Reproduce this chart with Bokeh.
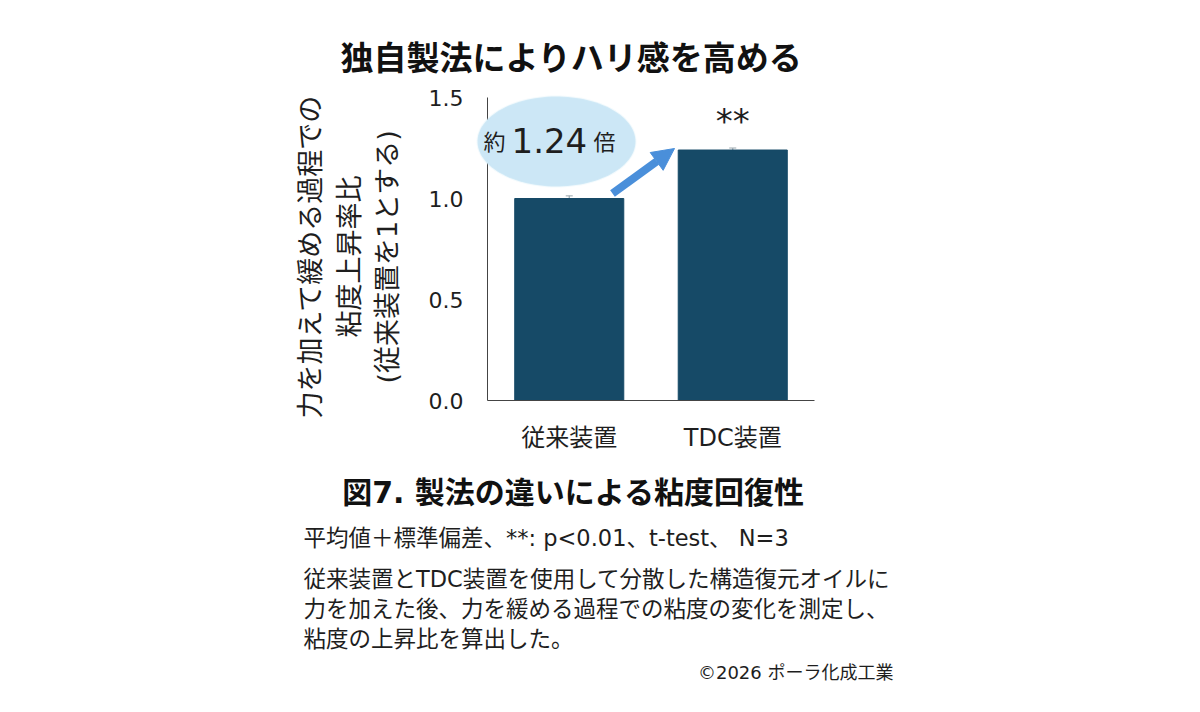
import numpy as np
from bokeh.plotting import figure
from bokeh.models import (Range1d, Label, PolyAnnotation, Arrow, NormalHead, LinearAxis,
                          Whisker, ColumnDataSource, FixedTicker, NumeralTickFormatter)
from bokeh.embed import file_html
from bokeh.resources import INLINE

# ---- data ----
categories = ["従来装置", "TDC装置"]
ratio_mean = [1.00, 1.24]
ratio_sd = [0.013, 0.010]
y_ticks = [0.0, 0.5, 1.0, 1.5]
significance = "**"
callout_prefix = "約"
callout_value = "1.24"
callout_suffix = "倍"

title_text = "独自製法によりハリ感を高める"
ylabel_lines = ["力を加えて緩める過程での", "粘度上昇率比", "(従来装置を1とする)"]
fig_caption = "図7. 製法の違いによる粘度回復性"
notes = ["平均値＋標準偏差、**: p<0.01、t-test、 N=3",
         "従来装置とTDC装置を使用して分散した構造復元オイルに",
         "力を加えた後、力を緩める過程での粘度の変化を測定し、",
         "粘度の上昇比を算出した。"]
copyright_text = "©2026 ポーラ化成工業"

# ---- layout ----
W, H = 1200, 712
L, R, T, B = 487, 814, 97, 400          # plot-area edges in pixels
FONT = "'DejaVu Sans', 'Noto Sans CJK JP'"
BAR_COLOR = "#164a67"
TXT = "#1e1e1e"
KX = 2.0 / (R - L)                      # x units per pixel
KY = 1.5 / (B - T)                      # y units per pixel

def X(px):
    return (px - L) * KX

def Y(py):
    return (B - py) * KY

xpos = [i + 0.5 for i in range(len(categories))]

p = figure(width=W, height=H, x_range=Range1d(X(0), X(W)), y_range=Range1d(Y(H), Y(0)),
           output_backend="svg", toolbar_location=None, x_axis_location=None, y_axis_location=None,
           min_border=0)
p.outline_line_color = None
p.xgrid.grid_line_color = None
p.ygrid.grid_line_color = None
p.background_fill_color = "white"
p.border_fill_color = "white"

src = ColumnDataSource(dict(x=xpos, mean=ratio_mean,
                            upper=[m + s for m, s in zip(ratio_mean, ratio_sd)]))
p.vbar(x="x", top="mean", width=0.667, source=src, fill_color=BAR_COLOR, line_color=BAR_COLOR)

wh = Whisker(base="x", upper="upper", lower="mean", source=src, line_color="#9aa6ad",
             line_width=1.2, lower_head=None)
wh.upper_head.size = 7
wh.upper_head.line_color = "#9aa6ad"
p.add_layout(wh)

# axes
yax = LinearAxis(fixed_location=X(L), bounds=(y_ticks[0], y_ticks[-1]),
                 ticker=FixedTicker(ticks=y_ticks), formatter=NumeralTickFormatter(format="0.0"))
xax = LinearAxis(fixed_location=0, bounds=(X(L), X(R)), ticker=FixedTicker(ticks=xpos),
                 major_label_overrides={x: c for x, c in zip(xpos, categories)})
for ax in (xax, yax):
    ax.major_tick_line_color = None
    ax.minor_tick_line_color = None
    ax.major_tick_out = 0
    ax.major_tick_in = 0
    ax.minor_tick_out = 0
    ax.minor_tick_in = 0
    ax.major_label_text_font = FONT
    ax.major_label_text_color = TXT
    ax.axis_line_color = "#444444"
yax.major_label_text_font_size = "22px"
xax.major_label_text_font_size = "24px"
yax.major_label_standoff = 24
xax.major_label_standoff = 23
p.add_layout(yax, "left")
p.add_layout(xax, "below")

# callout ellipse
t = np.linspace(0, 2 * np.pi, 120)
cx, cy, rx, ry = 556, 141, 79, 45
p.add_layout(PolyAnnotation(xs=list(X(cx + rx * np.cos(t))), ys=list(Y(cy + ry * np.sin(t))),
                            fill_color="#cce7f6", fill_alpha=1.0, line_color="#d8edf9",
                            line_width=2))

p.add_layout(Label(x=X(483), y=Y(142), text=callout_prefix, text_font=FONT, text_font_size="22px",
                   text_align="left", text_baseline="middle", text_color=TXT))
p.add_layout(Label(x=X(511), y=Y(140), text=callout_value, text_font=FONT, text_font_size="34px",
                   text_align="left", text_baseline="middle", text_color=TXT))
p.add_layout(Label(x=X(593), y=Y(142), text=callout_suffix, text_font=FONT, text_font_size="22px",
                   text_align="left", text_baseline="middle", text_color=TXT))

# arrow
p.add_layout(Arrow(end=NormalHead(size=22, fill_color="#4a8fda", line_color="#4a8fda"),
                   x_start=X(612), y_start=Y(193), x_end=X(674), y_end=Y(148),
                   line_color="#4a8fda", line_width=8))

# significance
p.add_layout(Label(x=xpos[1], y=Y(120), text=significance, text_font="DejaVu Sans",
                   text_font_size="34px", text_align="center", text_baseline="middle",
                   text_color=TXT))

# title
p.add_layout(Label(x=X(571), y=Y(58), text=title_text, text_font=FONT, text_font_size="33px",
                   text_font_style="bold", text_align="center", text_baseline="middle",
                   text_color="#111111"))

# y label lines
for px, line in zip([310, 349, 387], ylabel_lines):
    p.add_layout(Label(x=X(px), y=Y(256), text=line, text_font=FONT, text_font_size="27px",
                       angle=np.pi / 2, text_align="center", text_baseline="middle",
                       text_color=TXT))

# caption and notes
p.add_layout(Label(x=X(573), y=Y(492), text=fig_caption, text_font=FONT, text_font_size="30px",
                   text_font_style="bold", text_align="center", text_baseline="middle",
                   text_color="#111111"))
for py, line in zip([537, 578, 608, 638], notes):
    p.add_layout(Label(x=X(303), y=Y(py), text=line, text_font=FONT, text_font_size="22.5px",
                       text_align="left", text_baseline="middle", text_color=TXT))
p.add_layout(Label(x=X(893), y=Y(672), text=copyright_text, text_font=FONT, text_font_size="18px",
                   text_align="right", text_baseline="middle", text_color=TXT))

open("out.html", "w").write(file_html(p, INLINE))
